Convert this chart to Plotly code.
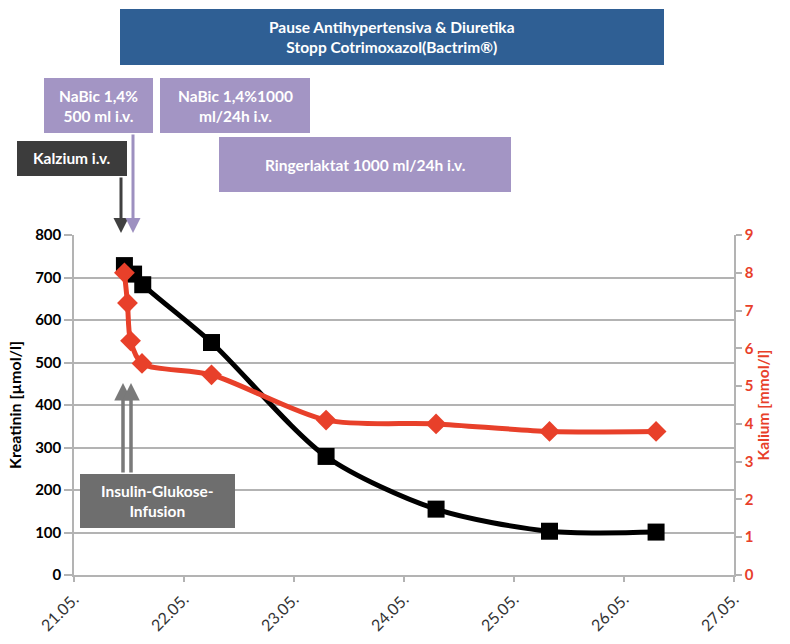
import plotly.graph_objects as go

# ---- data ----
kreatinin_times = ["2013-05-21 11:00", "2013-05-21 13:00", "2013-05-21 15:00", "2013-05-22 06:00",
                   "2013-05-23 07:00", "2013-05-24 07:00", "2013-05-25 07:45", "2013-05-26 07:00"]
kreatinin_values = [728, 708, 683, 547, 279, 155, 103, 101]

kalium_times = ["2013-05-21 11:00", "2013-05-21 11:40", "2013-05-21 12:20", "2013-05-21 14:50",
                "2013-05-22 06:00", "2013-05-23 07:00", "2013-05-24 07:00", "2013-05-25 07:45",
                "2013-05-26 07:00"]
kalium_values = [8.0, 7.2, 6.2, 5.6, 5.3, 4.1, 4.0, 3.8, 3.8]

x_range = ["2013-05-21", "2013-05-27"]
y_left_title = "Kreatinin [µmol/l]"
y_right_title = "Kalium [mmol/l]"

box_texts = {
    "pause": "Pause Antihypertensiva & Diuretika<br>Stopp Cotrimoxazol(Bactrim®)",
    "nabic1": "NaBic 1,4%<br>500 ml i.v.",
    "nabic2": "NaBic 1,4%1000<br>ml/24h i.v.",
    "kalzium": "Kalzium i.v.",
    "ringer": "Ringerlaktat 1000 ml/24h i.v.",
    "insulin": "Insulin-Glukose-<br>Infusion",
}

# ---- layout geometry (pixels) ----
W, H = 790, 644
L, R, T, B = 74, 734, 235, 575

def px(x):
    return (x - L) / (R - L)

def py(y):
    return (B - y) / (B - T)

BLACK = "#000000"
RED = "#e8402a"
GRID = "#b3b3b3"
BLUE = "#2f5f94"
LAV = "#a395c4"
DARK = "#3c3c3c"
MID = "#6e6e6e"
FONT = "Lato"

fig = go.Figure()
fig.add_trace(go.Scatter(
    x=kreatinin_times, y=kreatinin_values, mode="lines+markers", name="Kreatinin",
    line=dict(color=BLACK, width=5, shape="spline", smoothing=0.8),
    marker=dict(symbol="square", size=17, color=BLACK),
    yaxis="y", showlegend=False))
fig.add_trace(go.Scatter(
    x=kalium_times, y=kalium_values, mode="lines+markers", name="Kalium",
    line=dict(color=RED, width=5, shape="spline", smoothing=0.8),
    marker=dict(symbol="diamond", size=16, color=RED),
    yaxis="y2", showlegend=False))

shapes = []
annotations = []

def box(x0, y0, x1, y1, color, text, size=15.5):
    shapes.append(dict(type="rect", xref="paper", yref="paper",
                       x0=px(x0), x1=px(x1), y0=py(y1), y1=py(y0),
                       fillcolor=color, line=dict(width=0), layer="above"))
    annotations.append(dict(xref="paper", yref="paper", x=px((x0 + x1) / 2), y=py((y0 + y1) / 2),
                            text=text, showarrow=False, xanchor="center", yanchor="middle",
                            font=dict(family=FONT, size=size, color="white", weight="bold")))

box(120, 9, 664, 65, BLUE, box_texts["pause"])
box(44, 78, 153, 133, LAV, box_texts["nabic1"])
box(160, 78, 310, 133, LAV, box_texts["nabic2"])
box(17, 141, 127, 176, DARK, box_texts["kalzium"])
box(219, 137, 511, 192, LAV, box_texts["ringer"])
box(80, 474, 235, 528, MID, box_texts["insulin"])

def arrow(x, y_from, y_to, color, width):
    annotations.append(dict(xref="paper", yref="paper", x=px(x), y=py(y_to),
                            axref="pixel", ayref="pixel", ax=0, ay=(y_from - y_to),
                            text="", showarrow=True, arrowhead=2, arrowsize=1,
                            arrowwidth=width, arrowcolor=color))

arrow(121, 176, 233, "#404040", 3)
arrow(133, 133, 233, "#9d90c0", 3)
arrow(123, 474, 383, "#7a7a7a", 3.5)
arrow(131, 474, 383, "#7a7a7a", 3.5)
for xx in (123, 131):
    shapes.append(dict(type="line", xref="paper", yref="paper",
                       x0=px(xx), x1=px(xx), y0=py(473), y1=py(392),
                       line=dict(color="white", width=1.2), layer="above"))

fig.update_layout(
    width=W, height=H,
    margin=dict(l=L, r=W - R, t=T, b=H - B, pad=0, autoexpand=False),
    paper_bgcolor="white", plot_bgcolor="white",
    font=dict(family=FONT),
    shapes=shapes, annotations=annotations,
    xaxis=dict(type="date", range=x_range, dtick=86400000, tick0="2013-05-21",
               tickformat="%d.%m.", tickangle=-45, showgrid=False, automargin=False,
               showline=True, linecolor=GRID, linewidth=1.5,
               ticks="outside", ticklen=5, tickcolor=GRID, tickwidth=1.5,
               ticklabelstandoff=2,
               tickfont=dict(family=FONT, size=16, color="#333333")),
    yaxis=dict(range=[0, 800], dtick=100, showgrid=True, gridcolor=GRID, gridwidth=1.5,
               showline=True, linecolor=GRID, linewidth=1.5, zeroline=False, automargin=False,
               ticks="outside", ticklen=8, tickcolor=GRID, tickwidth=1.5,
               tickfont=dict(family=FONT, size=15, color="black", weight="bold"),
               title=dict(text=y_left_title, standoff=10,
                          font=dict(family=FONT, size=16, color="black", weight="bold"))),
    yaxis2=dict(range=[0, 9], dtick=1, overlaying="y", side="right", showgrid=False,
                showline=True, linecolor=GRID, linewidth=1.5, zeroline=False, automargin=False,
                ticks="outside", ticklen=6, tickcolor=GRID, tickwidth=1.5,
                tickfont=dict(family=FONT, size=15, color=RED, weight="bold"),
                title=dict(text=y_right_title, standoff=4,
                           font=dict(family=FONT, size=15.5, color=RED, weight="bold"))),
)

fig.write_html("out.html")
